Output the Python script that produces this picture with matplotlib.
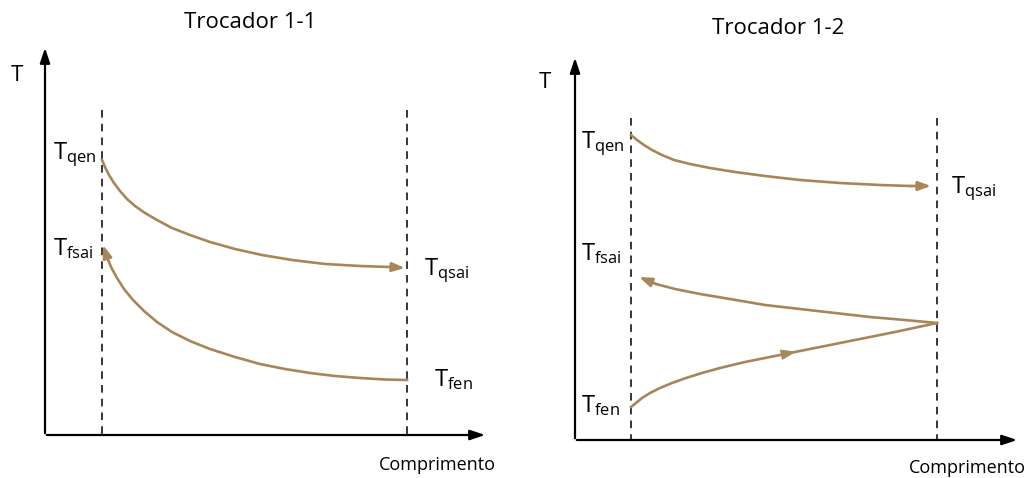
import matplotlib
matplotlib.use("Agg")
import matplotlib.pyplot as plt
import numpy as np

plt.rcParams['font.family'] = ['Open Sans', 'DejaVu Sans']
plt.rcParams['mathtext.fontset'] = 'custom'
plt.rcParams['mathtext.rm'] = 'Open Sans'
plt.rcParams['mathtext.it'] = 'Open Sans'

BROWN = '#A8855A'
LW = 1.9

# ---- data (pixel-space coordinates) ----
titles = ["Trocador 1-1", "Trocador 1-2"]
axis_label_y = "T"
axis_label_x = "Comprimento"

# Left panel: hot stream (Tqen -> Tqsai)
l_hot_x = [102, 105, 109, 114, 120, 127, 135, 145, 157, 172, 190, 210, 235, 262, 292, 325, 360, 390, 405]
l_hot_y = [160, 167, 175, 183, 191, 199, 206, 213, 220, 228, 235, 242, 249, 255, 260, 264, 266, 267, 268]
# Left panel: cold stream (Tfen -> Tfsai), drawn right to left
l_cold_x = [407, 385, 360, 335, 310, 285, 260, 235, 210, 190, 172, 157, 144, 133, 124, 117, 111, 107, 103]
l_cold_y = [380, 379.5, 378, 376, 373, 369, 364, 357, 349, 341, 332, 322, 311, 300, 289, 278, 267, 257, 245]

# Right panel: hot stream
r_hot_x = [631, 637, 644, 652, 662, 674, 690, 710, 735, 765, 800, 840, 880, 910, 931]
r_hot_y = [135, 140, 145, 150, 155, 160, 164, 168, 172, 176, 180, 183, 185, 186, 186]
# Right panel: cold stream, first pass (Tfen -> far end)
r_cold1_x = [631, 636, 642, 650, 660, 672, 686, 702, 720, 745, 775, 810, 850, 895, 937]
r_cold1_y = [407, 403, 398, 393, 388, 383, 378, 373, 368, 362, 356, 349, 341, 332, 323]
# Right panel: cold stream, return pass (far end -> Tfsai)
r_cold2_x = [937, 905, 870, 835, 800, 765, 730, 700, 675, 656, 639]
r_cold2_y = [323, 320, 317, 313, 309, 305, 299, 294, 289, 284, 277]

fig = plt.figure(figsize=(10.32, 4.78), dpi=100)
ax = fig.add_axes([0, 0, 1, 1])
ax.set_xlim(0, 1032)
ax.set_ylim(478, 0)
ax.axis('off')

def axes_arrows(x0, y0, ytop, xright):
    ax.annotate('', xy=(x0, ytop), xytext=(x0, y0 + 1),
                arrowprops=dict(arrowstyle='-|>,head_length=0.9,head_width=0.3', color='black', lw=1.6))
    ax.annotate('', xy=(xright, y0), xytext=(x0 - 1, y0),
                arrowprops=dict(arrowstyle='-|>,head_length=0.9,head_width=0.3', color='black', lw=1.6))

def dashed(x, ytop, ybot):
    ax.plot([x, x], [ytop, ybot], color='black', lw=1.1, ls=(0, (5, 4)))

def head(xy, xyt):
    ax.annotate('', xy=xy, xytext=xyt,
                arrowprops=dict(arrowstyle='-|>,head_length=0.75,head_width=0.27',
                                color=BROWN, lw=LW, shrinkA=0, shrinkB=0))

def curve(xs, ys, end_arrow=True):
    if end_arrow:
        ax.plot(xs[:-1], ys[:-1], color=BROWN, lw=LW, solid_joinstyle='round')
        head((xs[-1], ys[-1]), (xs[-2], ys[-2]))
    else:
        ax.plot(xs, ys, color=BROWN, lw=LW, solid_joinstyle='round')

def lab(x, y, base, sub, ha='left'):
    ax.text(x, y, r'$\mathrm{' + base + r'}_{\mathrm{' + sub + r'}}$', fontsize=17,
            ha=ha, va='center')

# ---------------- Left panel ----------------
ax.text(250, 22, titles[0], fontsize=16, ha='center', va='center')
axes_arrows(45, 435, 45, 488)
dashed(102, 110, 435)
dashed(407, 110, 435)
ax.text(11, 75, axis_label_y, fontsize=16, ha='left', va='center')
ax.text(437, 465, axis_label_x, fontsize=13, ha='center', va='center')
curve(l_hot_x, l_hot_y)
curve(l_cold_x, l_cold_y)
lab(53, 155, 'T', 'qen')
lab(53, 249, 'T', 'fsai')
lab(424, 271, 'T', 'qsai')
lab(434, 380, 'T', 'fen')

# ---------------- Right panel ----------------
ax.text(778, 28, titles[1], fontsize=16, ha='center', va='center')
axes_arrows(575, 440, 55, 1020)
dashed(631, 118, 440)
dashed(937, 118, 440)
ax.text(539, 82, axis_label_y, fontsize=16, ha='left', va='center')
ax.text(967, 468, axis_label_x, fontsize=13, ha='center', va='center')
curve(r_hot_x, r_hot_y)
curve(r_cold1_x, r_cold1_y, end_arrow=False)
# mid arrow on first cold pass
ax.annotate('', xy=(r_cold1_x[11] - 14, r_cold1_y[11] + 2.8), xytext=(r_cold1_x[10] - 8, r_cold1_y[10] + 1.5),
            arrowprops=dict(arrowstyle='-|>,head_length=1.0,head_width=0.35',
                            color=BROWN, lw=0.5, shrinkA=0, shrinkB=0))
curve(r_cold2_x, r_cold2_y)
lab(581, 144, 'T', 'qen')
lab(581, 254, 'T', 'fsai')
lab(581, 406, 'T', 'fen')
lab(951, 189, 'T', 'qsai')

fig.savefig('out.png', dpi=100)
